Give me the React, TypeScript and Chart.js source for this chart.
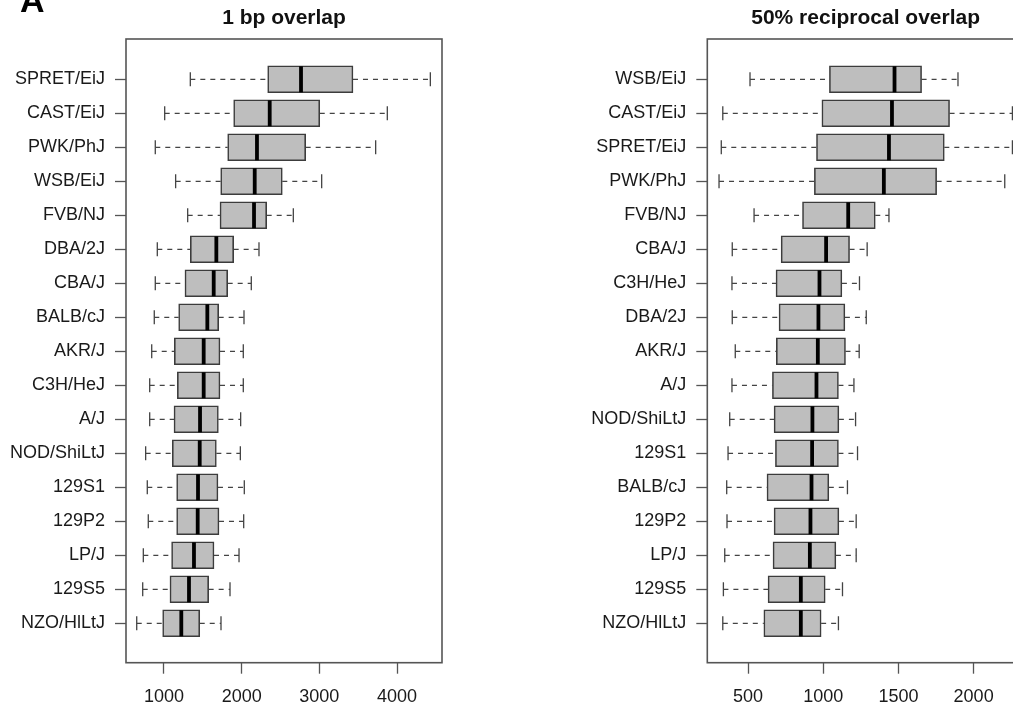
import React, { useEffect, useRef } from "react";
import { Chart, registerables } from "chart.js";

Chart.register(...registerables);

const FONT = "'Liberation Sans', Arial, Helvetica, sans-serif";

// ---------- Panel 1: 1 bp overlap (strains top to bottom) ----------
const bp1Strains = [
  "SPRET/EiJ", "CAST/EiJ", "PWK/PhJ", "WSB/EiJ", "FVB/NJ", "DBA/2J", "CBA/J",
  "BALB/cJ", "AKR/J", "C3H/HeJ", "A/J", "NOD/ShiLtJ", "129S1", "129P2", "LP/J",
  "129S5", "NZO/HlLtJ",
];
const bp1Low = [1339, 1009, 888, 1150, 1305, 914, 888, 875, 842, 816, 816, 764, 785, 798, 734, 726, 649];
const bp1Q1 = [2335, 1897, 1820, 1730, 1721, 1339, 1270, 1189, 1133, 1172, 1129, 1107, 1163, 1163, 1098, 1077, 983];
const bp1Median = [2764, 2361, 2197, 2168, 2159, 1674, 1640, 1558, 1511, 1511, 1464, 1460, 1438, 1434, 1386, 1322, 1223];
const bp1Q3 = [3433, 3005, 2824, 2523, 2322, 1897, 1820, 1704, 1721, 1721, 1700, 1674, 1695, 1708, 1644, 1575, 1460];
const bp1High = [4429, 3875, 3725, 3030, 2665, 2223, 2124, 2030, 2021, 2021, 1987, 1983, 2034, 2026, 1966, 1850, 1734];
const bp1Ticks = [1000, 2000, 3000, 4000];

// ---------- Panel 2: 50% reciprocal overlap ----------
const rec50Strains = [
  "WSB/EiJ", "CAST/EiJ", "SPRET/EiJ", "PWK/PhJ", "FVB/NJ", "CBA/J", "C3H/HeJ",
  "DBA/2J", "AKR/J", "A/J", "NOD/ShiLtJ", "129S1", "BALB/cJ", "129P2", "LP/J",
  "129S5", "NZO/HlLtJ",
];
const rec50Low = [513, 332, 322, 307, 540, 395, 393, 395, 415, 393, 378, 367, 358, 360, 345, 336, 332];
const rec50Q1 = [1041, 991, 955, 941, 862, 720, 686, 706, 688, 662, 673, 682, 626, 673, 666, 633, 605];
const rec50Median = [1474, 1457, 1437, 1403, 1166, 1019, 975, 968, 964, 955, 928, 926, 922, 915, 911, 851, 851];
const rec50Q3 = [1654, 1840, 1805, 1754, 1346, 1175, 1124, 1144, 1148, 1101, 1104, 1101, 1037, 1104, 1084, 1013, 986];
const rec50High = [1896, 2258, 2258, 2207, 1437, 1292, 1241, 1286, 1239, 1204, 1215, 1228, 1161, 1219, 1219, 1128, 1101];
const rec50Ticks = [500, 1000, 1500, 2000];

type Panel = {
  title: string;
  strains: string[];
  low: number[];
  q1: number[];
  median: number[];
  q3: number[];
  high: number[];
  ticks: number[];
  xMin: number;
  xMax: number;
};

const panels: Panel[] = [
  {
    title: "1 bp overlap",
    strains: bp1Strains, low: bp1Low, q1: bp1Q1, median: bp1Median, q3: bp1Q3, high: bp1High,
    ticks: bp1Ticks, xMin: 511, xMax: 4579,
  },
  {
    title: "50% reciprocal overlap",
    strains: rec50Strains, low: rec50Low, q1: rec50Q1, median: rec50Median, q3: rec50Q3, high: rec50High,
    ticks: rec50Ticks, xMin: 229, xMax: 2335,
  },
];

const BOX_H = 27;
const CAP_H = 14;

function boxExtras(p: Panel, tag?: string) {
  const n = p.strains.length;
  return {
    id: "boxExtras",
    beforeDatasetsDraw(chart: any) {
      const { ctx, scales } = chart;
      const xs = scales.x;
      const ys = scales.y;
      ctx.save();
      ctx.strokeStyle = "#444";
      ctx.lineWidth = 1.3;
      for (let i = 0; i < n; i++) {
        const y = ys.getPixelForValue(n - i);
        const xl = xs.getPixelForValue(p.low[i]);
        const x1 = xs.getPixelForValue(p.q1[i]);
        const x3 = xs.getPixelForValue(p.q3[i]);
        const xh = xs.getPixelForValue(p.high[i]);
        // dashed whiskers
        ctx.setLineDash([5, 5]);
        ctx.beginPath();
        ctx.moveTo(xl, y);
        ctx.lineTo(x1, y);
        ctx.moveTo(x3, y);
        ctx.lineTo(xh, y);
        ctx.stroke();
        // solid staples
        ctx.setLineDash([]);
        ctx.beginPath();
        ctx.moveTo(xl, y - CAP_H / 2);
        ctx.lineTo(xl, y + CAP_H / 2);
        ctx.moveTo(xh, y - CAP_H / 2);
        ctx.lineTo(xh, y + CAP_H / 2);
        ctx.stroke();
      }
      ctx.restore();
    },
    afterDatasetsDraw(chart: any) {
      const { ctx, scales } = chart;
      const xs = scales.x;
      const ys = scales.y;
      ctx.save();
      ctx.strokeStyle = "#000";
      ctx.lineWidth = 3.8;
      ctx.lineCap = "butt";
      for (let i = 0; i < n; i++) {
        const y = ys.getPixelForValue(n - i);
        const xm = xs.getPixelForValue(p.median[i]);
        ctx.beginPath();
        ctx.moveTo(xm, y - BOX_H / 2 + 0.5);
        ctx.lineTo(xm, y + BOX_H / 2 - 0.5);
        ctx.stroke();
      }
      ctx.restore();
    },
    afterDraw(chart: any) {
      const { ctx, chartArea } = chart;
      const { left, right, top, bottom } = chartArea;
      ctx.save();
      // plot frame
      ctx.strokeStyle = "#555";
      ctx.lineWidth = 1.6;
      ctx.strokeRect(left, top, right - left, bottom - top);
      // panel title
      ctx.fillStyle = "#111";
      ctx.font = `bold 21px ${FONT}`;
      ctx.textAlign = "center";
      ctx.textBaseline = "alphabetic";
      ctx.fillText(p.title, (left + right) / 2, 23.5);
      // figure tag
      if (tag) {
        ctx.font = `bold 34px ${FONT}`;
        ctx.textAlign = "left";
        ctx.fillStyle = "#000";
        ctx.fillText(tag, 20, 12);
      }
      ctx.restore();
    },
  };
}

function BoxPanel(props: { panel: Panel; left: number; width: number; yWidth: number; padRight: number; tag?: string }) {
  const { panel, left, width, yWidth, padRight, tag } = props;
  const ref = useRef<HTMLCanvasElement | null>(null);

  useEffect(() => {
    const canvas = ref.current;
    if (!canvas) return;
    const n = panel.strains.length;
    const tickFont = { size: 18, family: FONT };
    const chart = new Chart(canvas, {
      type: "bar",
      data: {
        datasets: [
          {
            data: panel.strains.map((_, i) => ({ y: n - i, x: [panel.q1[i], panel.q3[i]] })) as any,
            backgroundColor: "#bebebe",
            borderColor: "#3c3c3c",
            borderWidth: 1.6,
            borderSkipped: false,
            barThickness: BOX_H,
          },
        ],
      },
      options: {
        indexAxis: "y",
        responsive: false,
        animation: false,
        devicePixelRatio: 1,
        layout: { padding: { top: 39, right: padRight, left: 0, bottom: 0 } },
        plugins: {
          legend: { display: false },
          tooltip: { enabled: false },
          title: { display: false },
        },
        scales: {
          x: {
            type: "linear",
            position: "bottom",
            min: panel.xMin,
            max: panel.xMax,
            offset: false,
            border: { display: false },
            grid: { drawOnChartArea: false, drawTicks: true, tickLength: 11, tickColor: "#555", tickWidth: 1.3, offset: false },
            ticks: {
              padding: 13,
              color: "#1a1a1a",
              font: tickFont,
              autoSkip: false,
              maxRotation: 0,
              callback: (v: any) => String(v),
            },
            afterBuildTicks: (s: any) => {
              s.ticks = panel.ticks.map((v) => ({ value: v }));
            },
            afterFit: (s: any) => {
              s.height = 45.3;
            },
          },
          y: {
            type: "linear",
            position: "left",
            min: -0.159,
            max: 18.185,
            offset: false,
            border: { display: false },
            grid: { drawOnChartArea: false, drawTicks: true, tickLength: 11, tickColor: "#555", tickWidth: 1.3, offset: false },
            ticks: {
              padding: 10,
              color: "#1a1a1a",
              font: tickFont,
              autoSkip: false,
              callback: (v: any) => panel.strains[n - Number(v)] ?? "",
            },
            afterBuildTicks: (s: any) => {
              s.ticks = panel.strains.map((_, i) => ({ value: n - i }));
            },
            afterFit: (s: any) => {
              s.width = yWidth;
            },
          },
        },
      } as any,
      plugins: [boxExtras(panel, tag)],
    });
    return () => chart.destroy();
  }, [panel, width, yWidth, padRight, tag]);

  return (
    <canvas
      ref={ref}
      width={width}
      height={708}
      style={{ position: "absolute", left, top: 0, width, height: 708 }}
    />
  );
}

export default function App() {
  return (
    <div
      style={{
        position: "fixed",
        left: 0,
        top: 0,
        width: 1013,
        height: 708,
        overflow: "hidden",
        background: "#fff",
      }}
    >
      <BoxPanel panel={panels[0]} left={0} width={506} yWidth={126} padRight={64} tag="A" />
      <BoxPanel panel={panels[1]} left={506} width={518} yWidth={201.3} padRight={0} />
    </div>
  );
}
